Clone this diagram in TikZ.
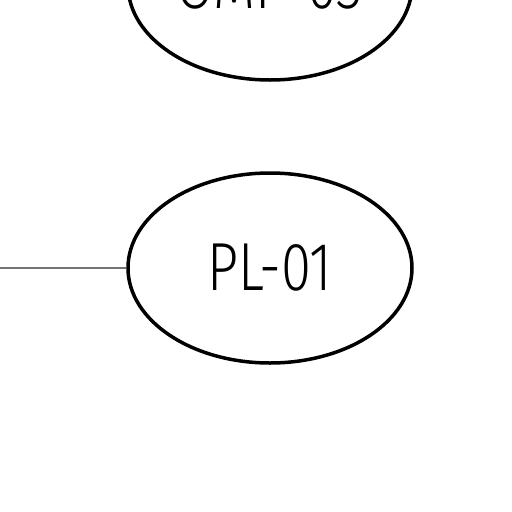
\documentclass[tikz,border=0pt]{standalone}
\usepackage{fontspec}
\newfontfamily\labelfont[FakeStretch=0.8]{Fira Sans Light}
\usetikzlibrary{shapes.geometric}
\tikzset{
  unit/.style={ellipse, draw=black, line width=3.5pt, minimum width=284pt, minimum height=190pt, inner sep=0pt, font=\labelfont\fontsize{68}{68}\selectfont},
  link/.style={draw=black!55, line width=1.2pt}
}
\begin{document}
\begin{tikzpicture}[x=1pt,y=-1pt]
\useasboundingbox (0,0) rectangle (512,512);
\clip (0,0) rectangle (512,512);
\node[unit] (omp) at (270,-15) {OMP-03};
\node[unit] (pl) at (270,268) {PL-01};
\coordinate (lend) at (0,268);
\draw[link] (lend) -- (pl.west);
\end{tikzpicture}
\end{document}
